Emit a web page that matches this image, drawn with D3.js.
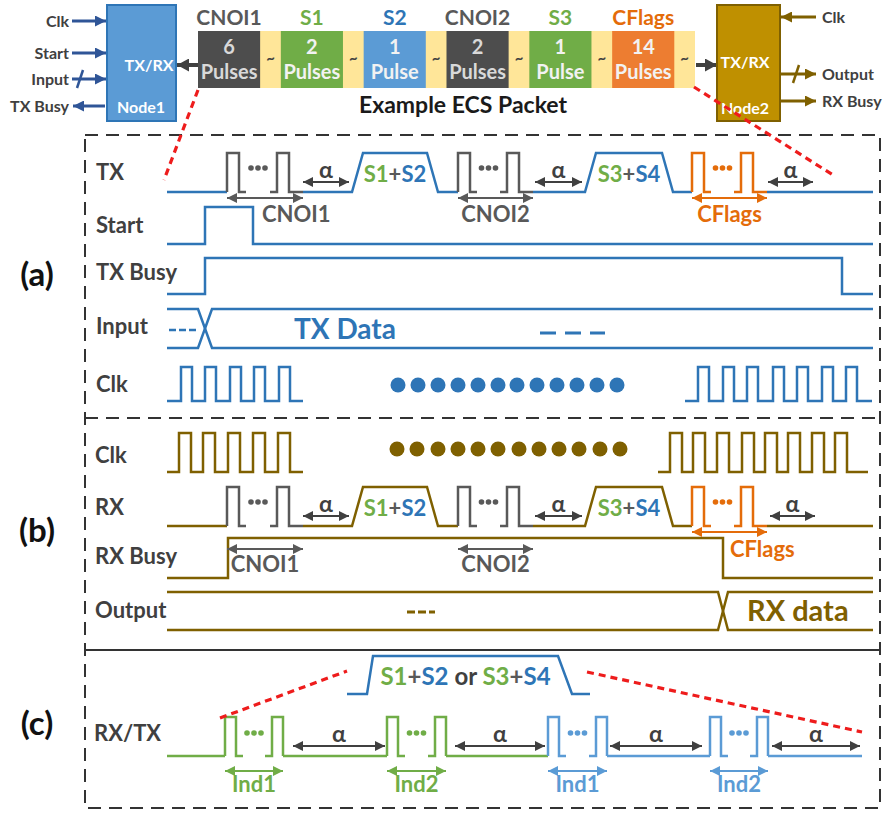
<!DOCTYPE html>
<html>
<head>
<meta charset="utf-8">
<script src="https://cdn.jsdelivr.net/npm/d3@7/dist/d3.min.js"></script>
<style>
html, body { margin: 0; padding: 0; background: #fff; }
svg text { font-family: Lato, "Open Sans", "DejaVu Sans", sans-serif; font-weight: 700; }
</style>
</head>
<body>
<svg id="chart" width="887" height="813"></svg>
<script>
// ---------------- Packet header ----------------
const packetFields = ["CNOI1", "S1", "S2", "CNOI2", "S3", "CFlags"];
const packetCounts = ["6", "2", "1", "2", "1", "14"];
const packetUnits  = ["Pulses", "Pulses", "Pulse", "Pulses", "Pulse", "Pulses"];
const packetKinds  = ["cnoi", "symA", "symB", "cnoi", "symA", "flags"];
const node1Ports    = ["Clk", "Start", "Input", "TX Busy"];
const node1PortDirs = ["in", "in", "bus", "out"];
const node2Ports    = ["Clk", "Output", "RX Busy"];
const node2PortDirs = ["in", "busout", "out"];
const panelLabels   = ["(a)", "(b)", "(c)"];
const rowLabelsA    = ["TX", "Start", "TX Busy", "Input", "Clk"];
const rowLabelsB    = ["Clk", "RX", "RX Busy", "Output"];
const rowLabelsC    = ["RX/TX"];

// ---------------- Timing (shared time axis, arbitrary units) ----------------
const txPulseGroups = [
  { name: "CNOI1",  start: 60,  end: 136, kind: "cnoi"  },
  { name: "CNOI2",  start: 291, end: 366, kind: "cnoi"  },
  { name: "CFlags", start: 525, end: 600, kind: "flags" }
];
const symbolSlots = [
  { first: "S1", second: "S2", start: 185, end: 271 },
  { first: "S3", second: "S4", start: 418, end: 506 }
];
const alphaGapsA   = [[136, 182], [368, 415], [601, 646]];
const alphaGapsB   = [[136, 182], [368, 415], [603, 648]];
const startPulse   = [38, 86];
const txBusyWindow = [38, 675];
const inputSwitchAt = 38;
const clkSpansA = [[0, 136], [518, 705]];
const clkRisesA = [[14, 38, 63, 87, 112], [531, 556, 580, 606, 630, 655, 679]];
const clkDotsA  = [231, 251, 271, 291, 311, 331, 350, 370, 390, 410, 430, 450];
const clkSpansB = [[0, 136], [491, 701]];
const clkRisesB = [[12, 36, 61, 86, 111], [503, 526, 550, 575, 598, 621, 645, 668]];
const clkDotsB  = [230, 250, 271, 291, 311, 331, 352, 372, 392, 412, 433, 453];
const rxBusyWindow  = [61, 556];
const outputSwitchAt = 556;
const indicatorGroups = [
  { name: "Ind1", start: 58,  end: 116, set: "S1S2" },
  { name: "Ind2", start: 220, end: 279, set: "S1S2" },
  { name: "Ind1", start: 381, end: 440, set: "S3S4" },
  { name: "Ind2", start: 543, end: 601, set: "S3S4" }
];
const alphaGapsC = [[126, 218], [288, 378], [443, 535], [605, 693]];
const symbolShapeC = [180, 200, 206, 391, 405, 423]; // flat, rise, top, top end, fall, flat end
const trackEndC = 695;
const trackEnd = 706;

// ---------------- Setup ----------------
const svg = d3.select("#chart");
const defs = svg.append("defs");
const col = {
  blue: "#2e75b6", blueLt: "#5b9bd5", green: "#70ad47", orange: "#e46c0a",
  gray: "#595959", dark: "#404040", gold: "#7f6000", goldFill: "#bf9000",
  red: "#ee1c1c", yellow: "#ffe699", cnoiFill: "#4d4d4d", flagsFill: "#ed7d31",
  node1Arrow: "#2f5597"
};
const kindColor = { cnoi: col.gray, flags: col.orange };
const setColor = { S1S2: col.green, S3S4: col.blueLt };

const x = d3.scaleLinear().domain([0, trackEnd]).range([167, 873]);
const line = d3.line();

const markerCache = {};
function marker(color, len, wid) {
  const key = color + "_" + len + "_" + wid;
  if (markerCache[key]) return markerCache[key];
  const id = "arrowhead" + Object.keys(markerCache).length;
  defs.append("marker").attr("id", id)
    .attr("viewBox", "0 0 10 10").attr("refX", 10).attr("refY", 5)
    .attr("markerWidth", len).attr("markerHeight", wid)
    .attr("markerUnits", "userSpaceOnUse").attr("preserveAspectRatio", "none")
    .attr("orient", "auto-start-reverse")
    .append("path").attr("d", "M0,0L10,5L0,10z").attr("fill", color);
  markerCache[key] = "url(#" + id + ")";
  return markerCache[key];
}
function arrow(g, x1, y1, x2, y2, color, opt = {}) {
  const { both = false, w = 2, len = 9, wid = 8 } = opt;
  const m = marker(color, len, wid);
  const l = g.append("line").attr("x1", x1).attr("y1", y1).attr("x2", x2).attr("y2", y2)
    .attr("stroke", color).attr("stroke-width", w).attr("marker-end", m);
  if (both) l.attr("marker-start", m);
  return l;
}
function poly(g, pts, color, w = 2.5) {
  return g.append("path").attr("d", line(pts)).attr("fill", "none")
    .attr("stroke", color).attr("stroke-width", w).attr("stroke-linejoin", "miter");
}
function label(g, str, px, py, opt = {}) {
  const { size = 20, color = col.dark, anchor = "middle", weight = 700 } = opt;
  return g.append("text").attr("x", px).attr("y", py).attr("dy", "0.36em")
    .attr("text-anchor", anchor).attr("font-size", size).attr("font-weight", weight)
    .attr("fill", color).text(str);
}
function dots3(g, cx, cy, color) {
  [-7, 0, 7].forEach(d => g.append("circle").attr("cx", cx + d).attr("cy", cy).attr("r", 2.8).attr("fill", color));
}

// ---------------- Header ----------------
const head = svg.append("g");
const band = d3.scaleBand().domain(packetFields).range([198, 695])
  .paddingInner(0.25).paddingOuter(0.125).align(0);
const fieldFill = { cnoi: col.cnoiFill, symA: col.green, symB: col.blueLt, flags: col.flagsFill };
const fieldText = { cnoi: "#d9d9d9", symA: "#f2f2f2", symB: "#f2f2f2", flags: "#f2f2f2" };
const fieldTitle = { cnoi: col.gray, symA: col.green, symB: col.blue, flags: col.orange };

head.append("rect").attr("x", 198).attr("y", 31).attr("width", 695 - 198).attr("height", 57).attr("fill", col.yellow);
packetFields.forEach((f, i) => {
  const k = packetKinds[i], bx = band(f), bw = band.bandwidth();
  head.append("rect").attr("x", bx).attr("y", 31).attr("width", bw).attr("height", 57).attr("fill", fieldFill[k]);
  label(head, packetCounts[i], bx + bw / 2, 47, { size: 20, weight: 400, color: fieldText[k] });
  label(head, packetUnits[i], bx + bw / 2, 72, { size: 20, weight: 400, color: fieldText[k] });
  label(head, f, bx + bw / 2, 17, { size: 21, color: fieldTitle[k] });
  label(head, "~", bx + bw + (band.step() - bw) / 2, 58, { size: 15, weight: 400, color: col.dark });
});
label(head, "Example ECS Packet", 463, 105, { size: 23, color: "#1a1a1a" });

// packet flow arrows
arrow(head, 198, 65, 177, 65, col.dark, { w: 4, len: 12, wid: 13 });
arrow(head, 696, 65, 717, 65, col.dark, { w: 4, len: 12, wid: 13 });

// Node1
head.append("rect").attr("x", 107).attr("y", 5).attr("width", 69).attr("height", 116)
  .attr("fill", col.blueLt).attr("stroke", col.blue).attr("stroke-width", 2);
label(head, "TX/RX", 149, 65, { size: 16, color: "#fff" });
label(head, "Node1", 141, 107, { size: 16, color: "#fff" });
const node1Y = [21, 53, 79, 106];
node1Ports.forEach((p, i) => {
  const y = node1Y[i], d = node1PortDirs[i];
  if (d === "out") arrow(head, 105, y, 73, y, col.node1Arrow, { w: 3, len: 11, wid: 11 });
  else arrow(head, 72, y, 106, y, col.node1Arrow, { w: 3, len: 11, wid: 11 });
  if (d === "bus") head.append("line").attr("x1", 77).attr("y1", y + 9).attr("x2", 83).attr("y2", y - 9)
    .attr("stroke", col.node1Arrow).attr("stroke-width", 2.5);
  label(head, p, 69, y, { size: 16, anchor: "end" });
});

// Node2
head.append("rect").attr("x", 717).attr("y", 5).attr("width", 63).attr("height", 116)
  .attr("fill", col.goldFill).attr("stroke", col.gold).attr("stroke-width", 2);
label(head, "TX/RX", 745, 62, { size: 16, color: "#fff" });
label(head, "Node2", 745, 108, { size: 16, color: "#fff" });
const node2Y = [17, 74, 101];
node2Ports.forEach((p, i) => {
  const y = node2Y[i], d = node2PortDirs[i];
  if (d === "in") arrow(head, 816, y, 781, y, col.gold, { w: 3, len: 11, wid: 11 });
  else arrow(head, 781, y, 816, y, col.gold, { w: 3, len: 11, wid: 11 });
  if (d === "busout") head.append("line").attr("x1", 793).attr("y1", y + 9).attr("x2", 799).attr("y2", y - 9)
    .attr("stroke", col.gold).attr("stroke-width", 2.5);
  label(head, p, 822, y, { size: 16, anchor: "start" });
});

// ---------------- Panel frame ----------------
const frame = svg.append("g");
frame.append("rect").attr("x", 85).attr("y", 135).attr("width", 795).attr("height", 673)
  .attr("fill", "none").attr("stroke", "#333").attr("stroke-width", 2).attr("stroke-dasharray", "13,8");
frame.append("line").attr("x1", 85).attr("x2", 880).attr("y1", 418).attr("y2", 418)
  .attr("stroke", "#333").attr("stroke-width", 2).attr("stroke-dasharray", "13,8");
frame.append("line").attr("x1", 85).attr("x2", 880).attr("y1", 650).attr("y2", 650)
  .attr("stroke", "#333").attr("stroke-width", 2);
[274, 530, 723].forEach((y, i) => label(frame, panelLabels[i], 37, y, { size: 33, color: "#111" }));

// ---------------- Shared builders ----------------
// baseline pieces of a serial track: pulse groups leave gaps, symbol slots become trapezoids
function trackSegments(groups, slots, end, slant) {
  const ev = [...groups.map(g => ({ ...g, type: "g" })), ...slots.map(s => ({ ...s, type: "s" }))]
    .sort((a, b) => a.start - b.start);
  const segs = []; let cur = [[0, 0]];
  ev.forEach(e => {
    if (e.type === "s") {
      cur.push([e.start, 0], [e.start + slant, 1], [e.end - slant, 1], [e.end, 0]);
    } else {
      cur.push([e.start, 0]); segs.push(cur); cur = [[e.end, 0]];
    }
  });
  cur.push([end, 0]); segs.push(cur);
  return segs;
}
// first and last pulse of a group, with short feet on the inner side
function groupShape(g, w, foot, tail) {
  const a1 = g.start + w, a2 = a1 + foot;
  const b1 = g.end - tail, b0 = b1 - w, bm = b0 - foot;
  return {
    paths: [
      [[g.start, 0], [g.start, 1], [a1, 1], [a1, 0], [a2, 0]],
      [[bm, 0], [b0, 0], [b0, 1], [b1, 1], [b1, 0], [g.end, 0]]
    ],
    mid: (a2 + bm) / 2
  };
}
function toPx(pts, base, high) { return pts.map(([t, l]) => [x(t), l ? high : base]); }
function clockPath(span, rises, hw) {
  const pts = [[span[0], 0]];
  rises.forEach(r => pts.push([r, 0], [r, 1], [r + hw, 1], [r + hw, 0]));
  pts.push([span[1], 0]);
  return pts;
}
function busLines(g, center, half, top, bottom, color) {
  poly(g, [[x(0), top], [x(center - half), top], [x(center + half), bottom], [x(trackEnd), bottom]], color);
  poly(g, [[x(0), bottom], [x(center - half), bottom], [x(center + half), top], [x(trackEnd), top]], color);
}
function symbolText(g, slot, cx, cy, size) {
  const t = g.append("text").attr("x", cx).attr("y", cy).attr("dy", "0.36em")
    .attr("text-anchor", "middle").attr("font-size", size);
  t.append("tspan").attr("fill", col.green).text(slot.first);
  t.append("tspan").attr("fill", col.gray).text("+");
  t.append("tspan").attr("fill", col.blue).text(slot.second);
  return t;
}
function serialRow(g, base, high, lineColor) {
  trackSegments(txPulseGroups, symbolSlots, trackEnd, 11)
    .forEach(s => poly(g, toPx(s, base, high), lineColor));
  txPulseGroups.forEach(gr => {
    const c = kindColor[gr.kind], sh = groupShape(gr, 12, 7, 14);
    sh.paths.forEach(p => poly(g, toPx(p, base, high), c));
    dots3(g, x(sh.mid), high + 15, c);
  });
  symbolSlots.forEach(s => symbolText(g, s, x((s.start + s.end) / 2), (base + high) / 2 + 2, 22));
}
function alphaArrows(g, gaps, base) {
  gaps.forEach(([a, b]) => {
    arrow(g, x(a), base - 10, x(b), base - 10, col.dark, { both: true, w: 2, len: 10, wid: 10 });
    label(g, "α", x((a + b) / 2), base - 22, { size: 23 });
  });
}

// ---------------- Panel (a): transmitter ----------------
const pa = svg.append("g");
const rowA = { tx: [192, 153], start: [244, 207], busy: [294, 258], input: [309, 348], clk: [401, 367] };
[172, 225, 272, 326, 384].forEach((y, i) => label(pa, rowLabelsA[i], 96, y, { size: 22, anchor: "start" }));

serialRow(pa, rowA.tx[0], rowA.tx[1], col.blue);
alphaArrows(pa, alphaGapsA, rowA.tx[0]);
txPulseGroups.forEach(gr => {
  const c = kindColor[gr.kind];
  arrow(pa, x(gr.start), rowA.tx[0] + 6, x(gr.end), rowA.tx[0] + 6, c, { both: true, w: 2, len: 10, wid: 10 });
  const t = label(pa, gr.name, x((gr.start + gr.end) / 2), 214, { size: 22, color: c });
  const bb = t.node().getBBox(), clear = x(startPulse[1]) + 9;
  if (bb.x < clear && bb.x + bb.width > x(startPulse[0])) t.attr("x", clear + bb.width / 2);
});

// Start
poly(pa, toPx([[0, 0], [startPulse[0], 0], [startPulse[0], 1], [startPulse[1], 1], [startPulse[1], 0], [trackEnd, 0]],
  rowA.start[0], rowA.start[1]), col.blue);
// TX Busy
poly(pa, toPx([[0, 0], [txBusyWindow[0], 0], [txBusyWindow[0], 1], [txBusyWindow[1], 1], [txBusyWindow[1], 0], [trackEnd, 0]],
  rowA.busy[0], rowA.busy[1]), col.blue);
// Input bus
busLines(pa, inputSwitchAt, 7, rowA.input[0], rowA.input[1], col.blue);
pa.append("line").attr("x1", x(2)).attr("x2", x(29)).attr("y1", 330).attr("y2", 330)
  .attr("stroke", col.blue).attr("stroke-width", 2.5).attr("stroke-dasharray", "7,3");
label(pa, "TX Data", x(178), 329, { size: 28, color: col.blue });
pa.append("line").attr("x1", x(373)).attr("x2", x(438)).attr("y1", 333).attr("y2", 333)
  .attr("stroke", col.blue).attr("stroke-width", 3).attr("stroke-dasharray", "16,9");
// Clk
clkSpansA.forEach((sp, i) => poly(pa, toPx(clockPath(sp, clkRisesA[i], 11), rowA.clk[0], rowA.clk[1]), col.blue));
pa.selectAll("circle.dot").data(clkDotsA).join("circle").attr("class", "dot")
  .attr("cx", d => x(d)).attr("cy", 385).attr("r", 7.5).attr("fill", col.blue);

// ---------------- Panel (b): receiver ----------------
const pb = svg.append("g");
const rowB = { clk: [472, 433], rx: [526, 487], busy: [578, 538], out: [592, 630] };
[455, 507, 556, 610].forEach((y, i) => label(pb, rowLabelsB[i], 95, y, { size: 22, anchor: "start" }));

clkSpansB.forEach((sp, i) => poly(pb, toPx(clockPath(sp, clkRisesB[i], 12), rowB.clk[0], rowB.clk[1]), col.gold));
pb.selectAll("circle.dot").data(clkDotsB).join("circle").attr("class", "dot")
  .attr("cx", d => x(d)).attr("cy", 449).attr("r", 7.5).attr("fill", col.gold);

serialRow(pb, rowB.rx[0], rowB.rx[1], col.gold);
alphaArrows(pb, alphaGapsB, rowB.rx[0]);

// RX Busy
poly(pb, toPx([[0, 0], [rxBusyWindow[0], 0], [rxBusyWindow[0], 1], [rxBusyWindow[1], 1], [rxBusyWindow[1], 0], [trackEnd, 0]],
  rowB.busy[0], rowB.busy[1]), col.gold);
txPulseGroups.forEach(gr => {
  const c = kindColor[gr.kind];
  if (gr.kind === "flags") {
    arrow(pb, x(gr.start), rowB.rx[0] + 6, x(gr.end), rowB.rx[0] + 6, c, { both: true, w: 2, len: 10, wid: 10 });
    label(pb, gr.name, x(rxBusyWindow[1]) + 7, 549, { size: 22, color: c, anchor: "start" });
  } else {
    arrow(pb, x(gr.start), rowB.busy[1] + 11, x(gr.end), rowB.busy[1] + 11, c, { both: true, w: 2, len: 10, wid: 10 });
    label(pb, gr.name, x((gr.start + gr.end) / 2), 564, { size: 22, color: c });
  }
});
// Output bus
busLines(pb, outputSwitchAt, 5, rowB.out[0], rowB.out[1], col.gold);
pb.append("line").attr("x1", x(240)).attr("x2", x(268)).attr("y1", 612).attr("y2", 612)
  .attr("stroke", col.gold).attr("stroke-width", 3).attr("stroke-dasharray", "8,3");
label(pb, "RX data", x(outputSwitchAt) + 24, 611, { size: 29, color: col.gold, anchor: "start" });

// ---------------- Panel (c): one symbol on the wire ----------------
const pc = svg.append("g");
const rowC = [756, 717];
label(pc, rowLabelsC[0], 94, 733, { size: 22, anchor: "start" });

const sc = symbolShapeC;
poly(pc, [[x(sc[0]), 694], [x(sc[1]), 694], [x(sc[2]), 656], [x(sc[3]), 656], [x(sc[4]), 694], [x(sc[5]), 694]], col.blue);
{
  const t = pc.append("text").attr("x", x((sc[2] + sc[3]) / 2)).attr("y", 676).attr("dy", "0.36em")
    .attr("text-anchor", "middle").attr("font-size", 24);
  [["S1", col.green], ["+", col.gray], ["S2", col.blue], [" or ", col.dark],
   ["S3", col.green], ["+", col.gray], ["S4", col.blue]]
    .forEach(([s, c]) => t.append("tspan").attr("fill", c).text(s));
}

// baseline pieces between indicator groups
let prev = 0, prevColor = setColor[indicatorGroups[0].set];
indicatorGroups.forEach(gr => {
  const c = setColor[gr.set];
  poly(pc, toPx([[prev, 0], [gr.start, 0]], rowC[0], rowC[1]), prevColor);
  const sh = groupShape(gr, 11, 7, 0);
  sh.paths.forEach(p => poly(pc, toPx(p, rowC[0], rowC[1]), c));
  dots3(pc, x(sh.mid), rowC[1] + 16, c);
  arrow(pc, x(gr.start), 771, x(gr.end), 771, c, { both: true, w: 2, len: 10, wid: 10 });
  label(pc, gr.name, x((gr.start + gr.end) / 2), 784, { size: 22, color: c });
  prev = gr.end; prevColor = c;
});
poly(pc, toPx([[prev, 0], [trackEndC, 0]], rowC[0], rowC[1]), prevColor);
alphaArrows(pc, alphaGapsC, rowC[0]);

// ---------------- Zoom guides (red dashed) ----------------
const guides = svg.append("g").attr("stroke", col.red).attr("stroke-width", 3.2)
  .attr("stroke-dasharray", "7,5").attr("fill", "none");
[[198, 90, 164, 180], [694, 87, 833, 175], [220, 718, 347, 671], [587, 672, 862, 732]]
  .forEach(([x1, y1, x2, y2]) => guides.append("line").attr("x1", x1).attr("y1", y1).attr("x2", x2).attr("y2", y2));
</script>
</body>
</html>
